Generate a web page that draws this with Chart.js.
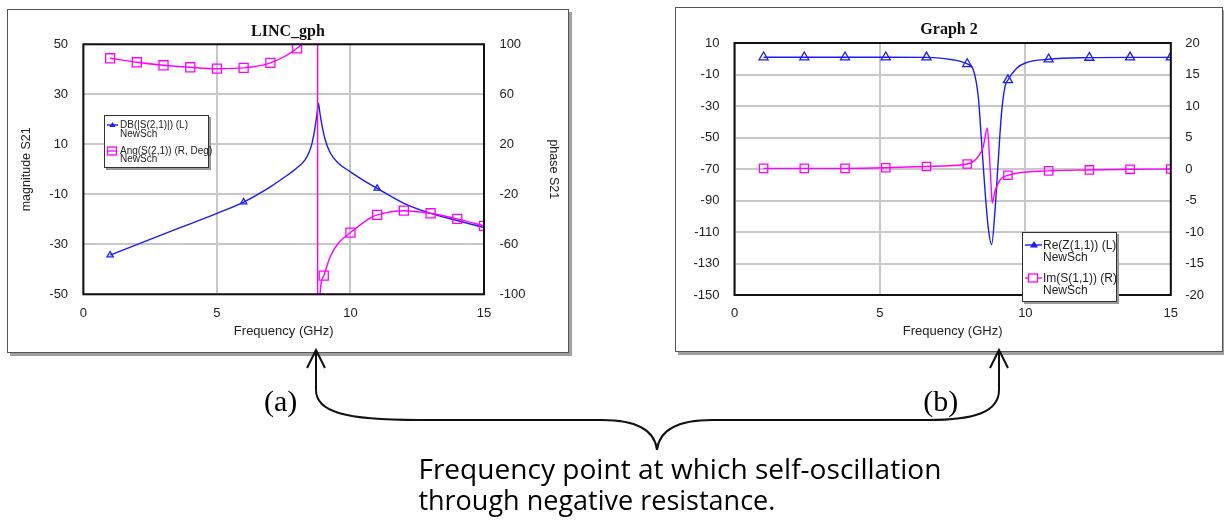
<!DOCTYPE html>
<html>
<head>
<meta charset="utf-8">
<script src="https://cdn.jsdelivr.net/npm/chart.js@4.4.1/dist/chart.umd.min.js"></script>
<style>
body { margin: 0; width: 1224px; height: 525px; background: #fff; position: relative; overflow: hidden; font-family: "Liberation Sans", Arial, sans-serif; }
.box { position: absolute; box-sizing: border-box; border: 1px solid #555; background: #fff; box-shadow: 3px 3px 0 #a0a0a0; }
.box canvas { position: absolute; left: 0; top: 0; }
.legend { position: absolute; box-sizing: border-box; border: 1px solid #333; background: #fff; box-shadow: 2px 2px 0 #9a9a9a; color: #222; white-space: nowrap; }
.legend div { position: absolute; }
.legend svg { position: absolute; overflow: visible; }
#notes { position: absolute; left: 0; top: 0; z-index: 5; pointer-events: none; }
</style>
</head>
<body>

<div class="box" style="left:7px;top:9px;width:562px;height:344px;"><canvas id="chartA" width="560" height="342"></canvas></div>
<div class="box" style="left:675px;top:7px;width:548px;height:345px;"><canvas id="chartB" width="546" height="343"></canvas></div>

<div class="legend" style="left:104px;top:115px;width:105px;height:53px;font-size:10px;">
  <svg style="left:2px;top:9px;" width="12" height="1"><line x1="0" y1="0" x2="11" y2="0" stroke="#1a1aff" stroke-width="1.4"/><polygon points="5.5,-3 8.5,2 2.5,2" fill="#1a1aff"/></svg>
  <div style="left:15px;top:3px;line-height:12px;">DB(|S(2,1)|) (L)</div>
  <div style="left:15px;top:11.5px;line-height:12px;">NewSch</div>
  <svg style="left:2px;top:34.7px;" width="12" height="1"><line x1="0" y1="0" x2="10" y2="0" stroke="#ff00ff" stroke-width="1.3"/><rect x="0.5" y="-4" width="9" height="8" fill="none" stroke="#ff00ff" stroke-width="1.3"/></svg>
  <div style="left:15px;top:28.7px;line-height:12px;">Ang(S(2,1)) (R, Deg)</div>
  <div style="left:15px;top:37.3px;line-height:12px;">NewSch</div>
</div>

<div class="legend" style="left:1022px;top:232px;width:95px;height:70px;font-size:12px;">
  <svg style="left:2px;top:12px;" width="18" height="1"><line x1="0" y1="0" x2="17" y2="0" stroke="#1a1aff" stroke-width="1.4"/><polygon points="9,-4 13,2.5 5,2.5" fill="#1a1aff"/></svg>
  <div style="left:20px;top:5px;line-height:14px;">Re(Z(1,1)) (L)</div>
  <div style="left:20px;top:16.7px;line-height:14px;">NewSch</div>
  <svg style="left:2px;top:45.3px;" width="18" height="1"><line x1="0" y1="0" x2="17" y2="0" stroke="#ff00ff" stroke-width="1.3"/><rect x="3.5" y="-4" width="9" height="8" fill="#fff" stroke="#ff00ff" stroke-width="1.3"/></svg>
  <div style="left:20px;top:38.3px;line-height:14px;">Im(S(1,1)) (R)</div>
  <div style="left:20px;top:50.3px;line-height:14px;">NewSch</div>
</div>

<svg id="notes" width="1224" height="525">
  <g fill="none" stroke="#111" stroke-width="2">
    <path d="M316,350 L316,390 C316,412 345,420 418,420 L602,420 C640,420 655,432 657,450 C659,432 674,420 712,420 L928,420 C975,420 999,412 999,390 L999,350"/>
    <path d="M307,368 L316,350 L325,368"/>
    <path d="M990,368 L999,350 L1008,368"/>
  </g>
  <g fill="#000">
    <text x="280.6" y="410.5" font-family="Liberation Serif" font-size="30" text-anchor="middle">(a)</text>
    <text x="940.8" y="410.5" font-family="Liberation Serif" font-size="30" text-anchor="middle">(b)</text>
    <text x="418.4" y="478.5" font-family="Open Sans" font-size="27" textLength="523" lengthAdjust="spacingAndGlyphs">Frequency point at which self-oscillation</text>
    <text x="418.4" y="510" font-family="Open Sans" font-size="27" textLength="357" lengthAdjust="spacingAndGlyphs">through negative resistance.</text>
  </g>
</svg>

<script>
// LINC_gph : DB(|S(2,1)|) on left axis, Ang(S(2,1)) in degrees on right axis
var freqDbA = [1, 2, 3, 4, 5, 6, 7, 7.5, 8, 8.3, 8.45, 8.55, 8.67, 8.75, 8.8, 8.85, 8.92, 9.05, 9.24, 9.55, 10, 10.5, 11, 12, 13, 14, 15];
var dbA = [-34.3, -30.1, -25.9, -21.8, -17.6, -13.1, -7.0, -3.4, 0.6, 3.8, 6.8, 10, 16.5, 22.5, 26.4, 23, 18.4, 12, 6.6, 2.4, -1.0, -4.5, -7.6, -13.6, -17.6, -20.5, -23.3];
var markDbA = [1, 6, 11];

var freqPhA = [1, 2, 3, 4, 5, 6, 7, 8, 8.14, 8.4, 8.6, 8.77, 8.77, 8.86, 9, 9.24, 9.55, 10, 10.73, 11, 12, 13, 14, 15];
var phaseA = [88.8, 85.6, 83.2, 81.6, 80.5, 81.1, 85.1, 96.8, 100, 118, 140, 180, -180, -100, -85.1, -70, -59, -50.7, -39, -36.5, -33.1, -35.2, -39.7, -45.3];
var markPhA = [1, 2, 3, 4, 5, 6, 7, 8, 9, 10, 11, 12, 13, 14, 15];

// Graph 2 : Re(Z(1,1)) on left axis, Im(S(1,1)) on right axis
var freqReB = [1, 2.4, 3.8, 5.2, 6.6, 7.5, 8.0, 8.21, 8.38, 8.49, 8.61, 8.72, 8.84, 8.95, 9.07, 9.18, 9.3, 9.4, 9.7, 10.0, 10.8, 12.2, 13.6, 15.0];
var reB = [1, 1, 1, 1, 0.9, -0.6, -3.3, -7.1, -24, -51.6, -83, -106.6, -118, -98, -64, -34.5, -17.7, -13.5, -6, -2.7, -0.3, 0.7, 0.9, 0.9];

var freqImB = [1, 2.4, 3.8, 5.2, 6.6, 8.0, 8.33, 8.55, 8.69, 8.76, 8.83, 8.86, 8.95, 9.13, 9.4, 10.8, 12.2, 13.6, 15.0];
var imB = [0.1, 0.1, 0.1, 0.2, 0.4, 0.8, 1.7, 3.5, 6.5, 2.5, -3.3, -5.4, -3.6, -1.75, -1.0, -0.3, -0.15, -0.05, 0];
var markB = [1, 2.4, 3.8, 5.2, 6.6, 8.0, 9.4, 10.8, 12.2, 13.6, 15.0];

// axis ranges [min, max, step]
var freqAxis = [0, 15, 5];
var magAxisA = [-50, 50, 20];
var phaseAxisA = [-100, 100, 40];
var reAxisB = [-150, 10, 20];
var imAxisB = [-20, 20, 5];

var BLUE = '#1a1aff', MAGENTA = '#ff00ff';
Chart.defaults.font.family = '"Liberation Sans", Arial, sans-serif';
Chart.defaults.font.size = 13;
Chart.defaults.color = '#222';

function pts(xs, ys) {
  return xs.map(function (x, i) { return {x: x, y: ys[i]}; });
}

function markAt(list, r) {
  return function (c) {
    var x = c.raw ? c.raw.x : null;
    return list.some(function (m) { return Math.abs(m - x) < 1e-6; }) ? r : 0;
  };
}

function series(xs, ys, marks, color, style, r, axisId, order) {
  return {
    data: pts(xs, ys),
    yAxisID: axisId,
    order: order,
    borderColor: color,
    borderWidth: 1.4,
    fill: false,
    cubicInterpolationMode: 'monotone',
    pointStyle: style,
    pointRadius: markAt(marks, r),
    pointHoverRadius: 0,
    pointBorderColor: color,
    pointBackgroundColor: 'rgba(255,255,255,0)',
    pointBorderWidth: 1.3
  };
}

function axis(range, opts) {
  var s = {
    type: 'linear',
    position: opts.position,
    min: range[0],
    max: range[1],
    ticks: {stepSize: range[2], padding: opts.pad, color: '#222', font: {size: 13}},
    grid: {display: opts.grid, color: '#c8c8c8', lineWidth: 2, drawTicks: false},
    border: {display: false},
    afterFit: function (sc) {
      if (sc.isHorizontal()) sc.height = opts.size; else sc.width = opts.size;
    }
  };
  if (opts.title) {
    // bottom titles are offset with padding.bottom, side titles with padding.top
    var pad = opts.position === 'bottom' ? {top: 0, bottom: opts.titlePad} : {top: opts.titlePad, bottom: 0};
    s.title = {display: true, text: opts.title, color: '#222', font: {size: opts.titleSize || 13}, padding: pad};
  }
  return s;
}

var plotFrame = {
  id: 'plotFrame',
  afterDatasetsDraw: function (chart) {
    var a = chart.chartArea, ctx = chart.ctx;
    ctx.save();
    ctx.lineWidth = 2;
    ctx.strokeStyle = '#111';
    ctx.strokeRect(a.left, a.top, a.right - a.left, a.bottom - a.top);
    ctx.restore();
  }
};

function titleOpts(text, padTop, padBottom) {
  return {display: true, text: text, color: '#111',
    font: {family: '"Liberation Serif", "Times New Roman", serif', size: 16, weight: 'bold'},
    padding: {top: padTop, bottom: padBottom}};
}

new Chart(document.getElementById('chartA').getContext('2d'), {
  type: 'line',
  data: {
    datasets: [
      series(freqDbA, dbA, markDbA, BLUE, 'triangle', 3.6, 'y', 1),
      series(freqPhA, phaseA, markPhA, MAGENTA, 'rect', 6.4, 'y2', 0)
    ]
  },
  options: {
    responsive: false,
    animation: false,
    devicePixelRatio: 1,
    events: [],
    layout: {padding: 0},
    plugins: {
      legend: {display: false},
      tooltip: {enabled: false},
      title: titleOpts('LINC_gph', 12.4, 2.7)
    },
    scales: {
      x: axis(freqAxis, {position: 'bottom', pad: 11, grid: true, size: 57.7, title: 'Frequency (GHz)', titlePad: 12.5}),
      y: axis(magAxisA, {position: 'left', pad: 15.3, grid: true, size: 75.4, title: 'magnitude S21', titleSize: 12.5, titlePad: 11.5}),
      y2: axis(phaseAxisA, {position: 'right', pad: 15.4, grid: false, size: 84, title: 'phase S21', titleSize: 12.5, titlePad: 7.5})
    }
  },
  plugins: [plotFrame]
});

new Chart(document.getElementById('chartB').getContext('2d'), {
  type: 'line',
  data: {
    datasets: [
      series(freqReB, reB, markB, BLUE, 'triangle', 5.2, 'y', 1),
      series(freqImB, imB, markB, MAGENTA, 'rect', 5.9, 'y2', 0)
    ]
  },
  options: {
    responsive: false,
    animation: false,
    devicePixelRatio: 1,
    events: [],
    layout: {padding: 0},
    plugins: {
      legend: {display: false},
      tooltip: {enabled: false},
      title: titleOpts('Graph 2', 12.4, 3.4)
    },
    scales: {
      x: axis(freqAxis, {position: 'bottom', pad: 10.5, grid: true, size: 56, title: 'Frequency (GHz)', titlePad: 11.5}),
      y: axis(reAxisB, {position: 'left', pad: 15.1, grid: true, size: 58.5}),
      y2: axis(imAxisB, {position: 'right', pad: 14.4, grid: false, size: 51.2})
    }
  },
  plugins: [plotFrame]
});
</script>
</body>
</html>
